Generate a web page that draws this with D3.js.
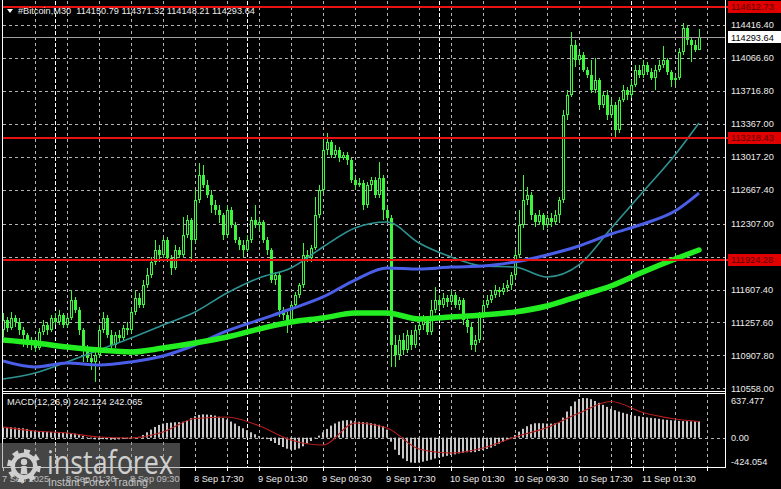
<!DOCTYPE html>
<html><head><meta charset="utf-8">
<script src="https://cdn.jsdelivr.net/npm/d3@7"></script>
<style>html,body{margin:0;padding:0;background:#000;overflow:hidden}</style>
</head><body>
<svg id="c" width="781" height="489"></svg>
<script>
// ---------- DATA ----------
const symbolTitle = "#Bitcoin,M30";
const lastOHLC = ["114150.79", "114371.32", "114148.21", "114293.64"];

const opens = [
111177,111284,111198,111305,111262,111177,111124,111018,111071,110986,
111156,111230,111177,111305,111262,111337,111230,111305,111496,111390,
111177,110965,110880,110838,110912,111177,111305,111124,111018,111124,
111092,111199,111177,111368,111517,111443,111655,111761,111900,112027,
111974,112133,111942,111836,112027,111974,112186,112346,112133,112558,
112823,112717,112611,112505,112452,112399,112186,112452,112292,112133,
112080,112027,112133,112346,112292,112324,112133,112027,111708,111761,
111390,111337,111284,111443,111549,111655,111974,111942,112048,112399,
112664,113089,113174,113036,113089,113004,113036,112983,112770,112717,
112738,112505,112717,112770,112611,112792,112452,112367,111018,110912,
111071,110965,111124,111018,111177,111230,111284,111156,111390,111496,
111443,111517,111475,111549,111443,111496,111284,111209,111018,111071,
111337,111443,111496,111549,111602,111581,111623,111655,111761,111974,
112292,112558,112611,112399,112324,112399,112292,112367,112324,112399,
112558,113461,113673,114204,114045,114098,113939,113885,113726,113832,
113567,113673,113461,113567,113301,113620,113726,113673,113779,113939,
113885,113992,113917,113854,113939,113992,114045,113917,113832,113854,
114130,114384,114257,114204,114150.79];
const highs = [
111358,111315,111368,111337,111305,111209,111145,111103,111092,111199,
111284,111262,111337,111358,111390,111358,111337,111602,111528,111422,
111199,111018,110944,110965,111230,111368,111337,111177,111156,111177,
111230,111262,111411,111602,111570,111708,111836,111953,112133,112080,
112154,112165,111974,112080,112059,112377,112399,112367,112664,112951,
112930,112770,112664,112558,112505,112420,112505,112484,112324,112165,
112133,112186,112377,112505,112367,112346,112165,112048,111793,111793,
111422,111368,111475,111581,111676,112101,112027,112080,112590,112717,
113195,113269,113195,113142,113121,113067,113067,113004,112802,112792,
112770,112749,112802,112802,112962,112823,112505,112399,111124,111124,
111145,111177,111177,111230,111305,111337,111305,111496,111634,111549,
111570,111549,111602,111581,111528,111517,111337,111262,111124,111368,
111496,111549,111602,111655,111634,111676,111708,111793,112027,112452,
112823,112696,112643,112420,112452,112420,112399,112420,112452,112590,
113514,113726,114342,114257,114130,114130,113970,114045,114066,113854,
113705,113726,113620,113599,113652,113779,113758,113832,113992,113992,
114045,114023,113960,113992,114045,114193,114066,113939,113885,114172,
114438,114416,114289,114257,114371.32];
const lows = [
111103,111156,111177,111209,111124,110997,110986,110965,110944,110965,
111124,111124,111156,111230,111230,111199,111199,111284,111358,111124,
110838,110838,110753,110625,110880,111145,111092,110965,110986,111050,
111071,111124,111145,111337,111411,111411,111623,111730,111868,111900,
111942,111900,111761,111815,111942,111942,112154,111900,112101,112526,
112685,112579,112420,112399,112314,112133,112154,112261,112101,112027,
111953,112006,112101,112261,112239,112101,111974,111676,111655,111315,
111284,111145,111252,111411,111517,111623,111900,111900,112027,112367,
112632,113036,113004,113004,112962,112983,112930,112738,112664,112696,
112452,112473,112664,112579,112579,112346,112324,110784,110784,110859,
110912,110933,110965,110986,111124,111177,111124,111124,111358,111390,
111411,111422,111443,111411,111390,111230,111145,110965,110944,111039,
111305,111411,111464,111517,111528,111549,111581,111602,111730,111942,
112261,112505,112346,112271,112292,112239,112261,112271,112292,112314,
112526,113408,113652,113970,113992,113917,113854,113694,113694,113514,
113535,113408,113429,113227,113269,113599,113620,113641,113758,113854,
113854,113885,113832,113726,113917,113960,113885,113758,113779,113832,
114098,114204,114023,114130,114148.21];
const closes = [
111284,111198,111305,111262,111177,111124,111018,111071,110986,111156,
111230,111177,111305,111262,111337,111230,111305,111496,111390,111177,
110965,110880,110838,110912,111177,111305,111124,111018,111124,111092,
111199,111177,111368,111517,111443,111655,111761,111900,112027,111974,
112133,111942,111836,112027,111974,112186,112346,112133,112558,112823,
112717,112611,112505,112452,112399,112186,112452,112292,112133,112080,
112027,112133,112346,112292,112324,112133,112027,111708,111761,111390,
111337,111284,111443,111549,111655,111974,111942,112048,112399,112664,
113089,113174,113036,113089,113004,113036,112983,112770,112717,112738,
112505,112717,112770,112611,112792,112452,112367,111018,110912,111071,
110965,111124,111018,111177,111230,111284,111156,111390,111496,111443,
111517,111475,111549,111443,111496,111284,111209,111018,111071,111337,
111443,111496,111549,111602,111581,111623,111655,111761,111974,112292,
112558,112611,112399,112324,112399,112292,112367,112324,112399,112558,
113461,113673,114204,114045,114098,113939,113885,113726,113832,113567,
113673,113461,113567,113301,113620,113726,113673,113779,113939,113885,
113992,113917,113854,113939,113992,114045,113917,113832,113854,114130,
114384,114257,114204,114151,114293.64];

// moving averages read at every 8th bar
const maBars  = [0,8,16,24,32,40,48,56,64,72,80,88,96,104,112,120,128,136,144,152,160,168,174];
const maFast  = [110657,110721,110838,110965,111092,111230,111369,111570,111730,111836,112059,112261,112324,112101,111953,111857,111846,111740,111868,112255,112645,113036,113376];
const maMid   = [110848,110784,110827,110806,110838,110901,111018,111167,111284,111400,111528,111708,111836,111825,111846,111857,111900,111974,112069,112197,112303,112441,112632];
const maSlow  = [111071,111039,110997,110965,110944,110986,111039,111103,111188,111262,111305,111358,111358,111294,111315,111337,111369,111432,111538,111645,111793,111931,112027];

// MACD(12,26,9)
const macdHist = [
160,160,155,150,145,140,130,
105,100,95,90,88,85,82,80,
75,72,70,60,50,
25,5,-15,-25,-30,
-22,-25,-30,-30,-25,-20,-18,-10,0,12,
40,80,120,
160,190,210,220,
225,230,232,238,255,
290,320,340,348,345,340,330,
312,292,270,240,210,
172,140,110,80,50,22,
2,-22,-50,
-80,-110,-140,
-165,-180,-182,-162,-130,
-92,-50,-12,30,
80,130,180,212,
240,255,262,256,246,
238,232,226,216,206,192,172,
120,
-60,
-180,-260,-312,
-350,-372,-378,-372,-360,
-346,-330,-312,-296,-285,
-272,-260,-250,-236,-226,
-218,-218,-216,-200,-186,-170,
-150,-122,-92,-62,
-30,2,40,90,
132,170,200,215,
216,214,210,210,214,226,
300,390,470,
540,578,592,590,575,
548,520,490,460,
432,410,390,372,356,
338,326,320,310,302,296,290,
282,272,266,260,255,
251,248,246,244,243,242.124];
const signalVals = [158,99,69,9,-6,84,285,308,179,-36,-111,218,144,-170,-230,-155,9,151,368,540,375,278,242.065];
const macdLabel = "MACD(12,26,9) 242.124 242.065";
const macdTicks = [637.477, 0, -424.054];
const macdTickLabels = ["637.477", "0.00", "-424.054"];

// price axis
const priceTicks = [114416.40,114066.60,113716.80,113367.00,113017.20,112667.40,112307.00,111957.20,111607.40,111257.60,110907.80,110558.00];
const priceTickLabels = ["114416.40","114066.60","113716.80","113367.00","113017.20","112667.40","112307.00","111957.20","111607.40","111257.60","110907.80","110558.00"];
const levels = [114612.73, 113218.43, 111924.28];
const levelLabels = ["114612.73", "113218.43", "111924.28"];
const currentPrice = 114293.64;
const currentLabel = "114293.64";

// time axis
const timeLabelBars = [0,16,32,48,64,80,96,112,128,144,160];
const timeLabels = ["7 Sep 2025","8 Sep 01:30","8 Sep 09:30","8 Sep 17:30","9 Sep 01:30","9 Sep 09:30","9 Sep 17:30","10 Sep 01:30","10 Sep 09:30","10 Sep 17:30","11 Sep 01:30"];
const daySeparatorBars = [13,61,109,157];

// ---------- DRAW ----------
const svg = d3.select("#c");
const FONT = "'Liberation Sans', Arial, sans-serif";
const L = 3, R = 726, MT = 1, MB = 391, PT = 395, PB = 467;

const x = d3.scaleLinear().domain([0, 180.75]).range([L, R]);
const y = d3.scaleLinear().domain([110529.5, 114650]).range([MB, 3]);
const ym = d3.scaleLinear().domain([-424.054, 637.477]).range([466, PT]);
const px = v => Math.round(x(v));

svg.append("rect").attr("width", 781).attr("height", 489).attr("fill", "#000");

const defs = svg.append("defs");
defs.append("clipPath").attr("id", "cm").append("rect").attr("x", L).attr("y", MT).attr("width", R - L).attr("height", MB - MT);
defs.append("clipPath").attr("id", "cp").append("rect").attr("x", L).attr("y", PT - 1).attr("width", R - L).attr("height", PB - PT + 1);

const grid = svg.append("g");
// horizontal grid
priceTicks.forEach(p => {
  const yy = Math.round(y(p)) + 0.5;
  grid.append("line").attr("x1", L).attr("x2", R).attr("y1", yy).attr("y2", yy)
    .attr("stroke", "#b4b4b4").attr("stroke-dasharray", "3,3").attr("stroke-width", 1);
});
// vertical grid every 8 bars
const vb = d3.range(8, 181, 8);
vb.forEach(b => {
  const xx = px(b) + 0.5;
  [[MT, MB], [PT - 1, PB]].forEach(([a, c]) =>
    grid.append("line").attr("x1", xx).attr("x2", xx).attr("y1", a).attr("y2", c)
      .attr("stroke", "#b4b4b4").attr("stroke-dasharray", "3,3"));
});
daySeparatorBars.forEach(b => {
  const xx = px(b) + 0.5;
  [[MT, MB], [PT - 1, PB]].forEach(([a, c]) =>
    grid.append("line").attr("x1", xx).attr("x2", xx).attr("y1", a).attr("y2", c)
      .attr("stroke", "#ffffff").attr("stroke-dasharray", "4,2"));
});
// macd zero line
grid.append("line").attr("x1", L).attr("x2", R).attr("y1", Math.round(ym(0)) + 0.5).attr("y2", Math.round(ym(0)) + 0.5)
  .attr("stroke", "#b4b4b4").attr("stroke-dasharray", "3,3");

// candles
const CG = "#3cf53c";
const cg = svg.append("g").attr("clip-path", "url(#cm)");
opens.forEach((o, i) => {
  const c = closes[i], h = highs[i], l = lows[i];
  const xi = px(i);
  cg.append("rect").attr("x", xi).attr("width", 1)
    .attr("y", Math.round(y(h))).attr("height", Math.max(1, Math.round(y(l)) - Math.round(y(h))))
    .attr("fill", CG);
  const top = Math.round(y(Math.max(o, c))), bot = Math.round(y(Math.min(o, c)));
  const hh = Math.max(1, bot - top);
  cg.append("rect").attr("x", xi - 1).attr("width", 3).attr("y", top).attr("height", hh).attr("fill", CG);
  if (c > o && hh > 2) {
    cg.append("rect").attr("x", xi).attr("width", 1).attr("y", top + 1).attr("height", hh - 2).attr("fill", "#000");
  }
});

// moving averages
const maLine = d3.line().x(d => x(d[0])).y(d => y(d[1])).curve(d3.curveMonotoneX);
const mg = svg.append("g").attr("clip-path", "url(#cm)");
mg.append("path").attr("d", maLine(maBars.map((b, k) => [b, maFast[k]])))
  .attr("fill", "none").attr("stroke", "#2f9393").attr("stroke-width", 1.6);
mg.append("path").attr("d", maLine(maBars.map((b, k) => [b, maMid[k]])))
  .attr("fill", "none").attr("stroke", "#4a5ee8").attr("stroke-width", 3);
mg.append("path").attr("d", maLine(maBars.map((b, k) => [b, maSlow[k]])))
  .attr("fill", "none").attr("stroke", "#22ee22").attr("stroke-width", 5.5).attr("stroke-linecap", "round");

// current price line
const cpY = Math.round(y(currentPrice)) + 0.5;
svg.append("line").attr("x1", L).attr("x2", R).attr("y1", cpY).attr("y2", cpY).attr("stroke", "#a0a0a0");

// level lines
levels.forEach(p => {
  const yy = Math.round(y(p));
  svg.append("line").attr("x1", L).attr("x2", 728).attr("y1", yy).attr("y2", yy)
    .attr("stroke", "#e81212").attr("stroke-width", 2);
});

// MACD histogram + signal
const hg = svg.append("g").attr("clip-path", "url(#cp)");
const z = ym(0);
macdHist.forEach((v, i) => {
  const yv = ym(v);
  hg.append("rect").attr("x", px(i) - 1).attr("width", 2)
    .attr("y", Math.min(yv, z)).attr("height", Math.max(0.5, Math.abs(yv - z)))
    .attr("fill", "#c8c8c8");
});
const sigLine = d3.line().x(d => x(d[0])).y(d => ym(d[1])).curve(d3.curveMonotoneX);
hg.append("path").attr("d", sigLine(maBars.map((b, k) => [b, signalVals[k]])))
  .attr("fill", "none").attr("stroke", "#b41c1c").attr("stroke-width", 1.1);

// frames
const fr = svg.append("g").attr("stroke", "#ffffff").attr("stroke-width", 1).attr("fill", "none");
fr.append("line").attr("x1", 2.5).attr("x2", 2.5).attr("y1", 0).attr("y2", 468);
fr.append("line").attr("x1", 725.5).attr("x2", 725.5).attr("y1", 0).attr("y2", 468);
fr.append("line").attr("x1", 2.5).attr("x2", 725.5).attr("y1", 391.5).attr("y2", 391.5);
fr.append("line").attr("x1", 2.5).attr("x2", 725.5).attr("y1", 393.5).attr("y2", 393.5);
fr.append("line").attr("x1", 2.5).attr("x2", 725.5).attr("y1", 467.5).attr("y2", 467.5);

// price axis labels
const ax = svg.append("g").attr("font-family", FONT).attr("font-size", 9.2).attr("fill", "#ececec");
priceTicks.forEach((p, k) => {
  ax.append("text").attr("x", 731).attr("y", y(p) + 3.3).text(priceTickLabels[k]);
});
levels.forEach((p, k) => {
  const yy = Math.round(y(p));
  svg.append("rect").attr("x", 728).attr("y", yy - 6).attr("width", 53).attr("height", 12).attr("fill", "#e00000");
  svg.append("text").attr("x", 731).attr("y", yy + 3.3).attr("font-family", FONT).attr("font-size", 9.2)
    .attr("fill", "#5a0000").text(levelLabels[k]);
});
svg.append("rect").attr("x", 728).attr("y", cpY - 6.5).attr("width", 53).attr("height", 12).attr("fill", "#ffffff");
svg.append("text").attr("x", 731).attr("y", cpY + 3.3).attr("font-family", FONT).attr("font-size", 9.2)
  .attr("fill", "#000").text(currentLabel);

// MACD axis labels
macdTicks.forEach((v, k) => {
  let yy = ym(v) + 3.3;
  if (k === 0) yy = 404; if (k === 2) yy = 465;
  ax.append("text").attr("x", 731).attr("y", yy).text(macdTickLabels[k]);
});

// time axis
d3.range(0, 181, 8).forEach(b => {
  svg.append("line").attr("x1", px(b) + 0.5).attr("x2", px(b) + 0.5).attr("y1", 468).attr("y2", 471).attr("stroke", "#ffffff");
});
timeLabelBars.forEach((b, k) => {
  ax.append("text").attr("x", px(b) - 1).attr("y", 482).text(timeLabels[k]);
});

// header
svg.append("path").attr("d", "M7,9 L13,9 L10,13 Z").attr("fill", "#ffffff");
ax.append("text").attr("x", 18).attr("y", 14).attr("xml:space", "preserve")
  .text(symbolTitle + "  " + lastOHLC.join(" "));
ax.append("text").attr("x", 7).attr("y", 405).text(macdLabel);

// watermark
const wm = svg.append("g");
wm.append("rect").attr("x", 0).attr("y", 443).attr("width", 180).attr("height", 46).attr("fill", "#8a8a8a").attr("opacity", 0.5);
const gp = d3.path();
const cx = 24, cy = 466, ro = 17, ri = 13.5, rh = 9;
const nT = 8;
for (let t = 0; t < nT * 2; t++) {
  const a0 = (t / (nT * 2)) * 2 * Math.PI, a1 = ((t + 1) / (nT * 2)) * 2 * Math.PI;
  const r = t % 2 === 0 ? ro : ri;
  const p0 = [cx + r * Math.cos(a0), cy + r * Math.sin(a0)], p1 = [cx + r * Math.cos(a1), cy + r * Math.sin(a1)];
  if (t === 0) gp.moveTo(p0[0], p0[1]); else gp.lineTo(p0[0], p0[1]);
  gp.lineTo(p1[0], p1[1]);
}
gp.closePath();
gp.moveTo(cx + rh, cy); gp.arc(cx, cy, rh, 0, 2 * Math.PI, true); gp.closePath();
wm.append("path").attr("d", gp.toString()).attr("fill", "#cfcfcf").attr("fill-rule", "evenodd");
wm.append("circle").attr("cx", cx).attr("cy", cy - 4).attr("r", 3.2).attr("fill", "#cfcfcf");
wm.append("path").attr("d", `M${cx-2.5},${cy} L${cx+2.5},${cy} L${cx+3.5},${cy+8} L${cx-3.5},${cy+8} Z`).attr("fill", "#cfcfcf");
wm.append("text").attr("x", 47).attr("y", 474).attr("font-family", "'Open Sans', 'Noto Sans', sans-serif")
  .attr("font-size", 33).attr("fill", "#cfcfcf").attr("textLength", 126).attr("lengthAdjust", "spacingAndGlyphs").text("instaforex");
wm.append("text").attr("x", 48).attr("y", 486).attr("font-family", FONT)
  .attr("font-size", 10).attr("fill", "#c4c4c4").attr("textLength", 100).attr("lengthAdjust", "spacingAndGlyphs").text("Instant Forex Trading");
</script>
</body></html>
